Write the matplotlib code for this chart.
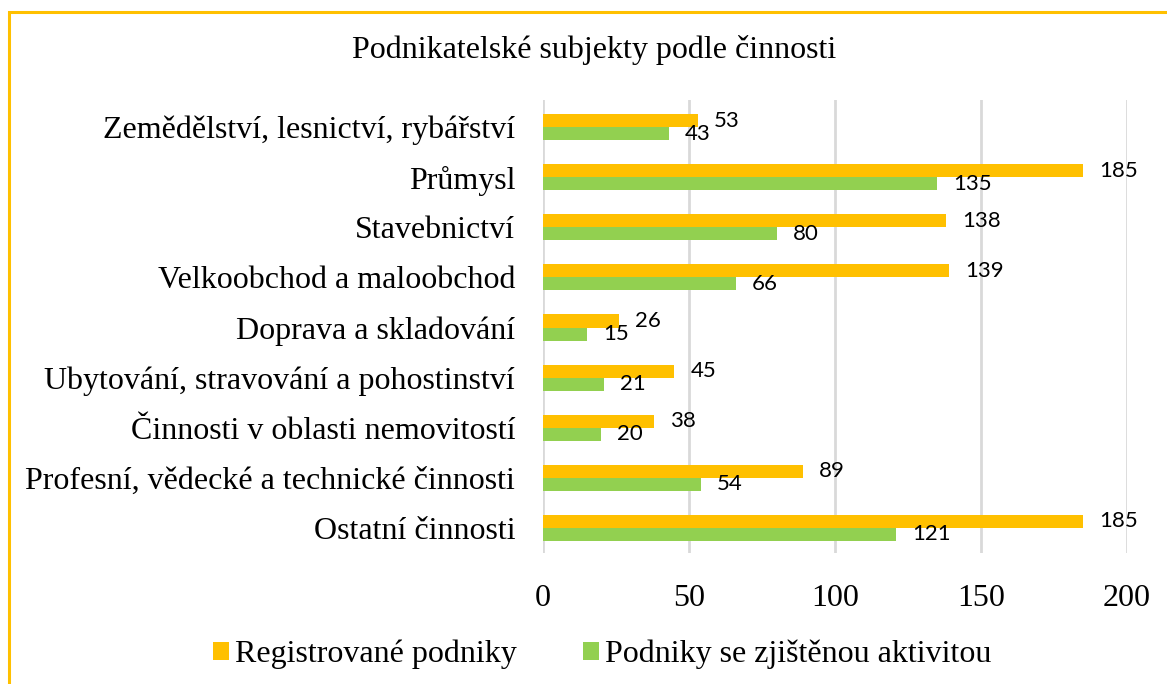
import matplotlib
matplotlib.use("Agg")
import matplotlib.pyplot as plt
from matplotlib.patches import Rectangle
import numpy as np

categories = [
    "Zemědělství, lesnictví, rybářství",
    "Průmysl",
    "Stavebnictví",
    "Velkoobchod a maloobchod",
    "Doprava a skladování",
    "Ubytování, stravování a pohostinství",
    "Činnosti v oblasti nemovitostí",
    "Profesní, vědecké a technické činnosti",
    "Ostatní činnosti",
]
registered = [53, 185, 138, 139, 26, 45, 38, 89, 185]
active = [43, 135, 80, 66, 15, 21, 20, 54, 121]
series_names = ["Registrované podniky", "Podniky se zjištěnou aktivitou"]
xticks = [0, 50, 100, 150, 200]
title = "Podnikatelské subjekty podle činnosti"

ORANGE = "#FFC000"
GREEN = "#92D050"
GRID = "#D9D9D9"
SERIF = "Liberation Serif"
SANS = "Lato"
FS = 23

fig = plt.figure(figsize=(11.67, 6.84), dpi=100)
ax = fig.add_axes([0.4653, 0.1915, 0.5004, 0.6623])

y = np.arange(len(categories))
h = 0.26
b1 = ax.barh(y - h / 2, registered, height=h, color=ORANGE, label=series_names[0], zorder=3)
b2 = ax.barh(y + h / 2, active, height=h, color=GREEN, label=series_names[1], zorder=3)

for bars, vals in ((b1, registered), (b2, active)):
    for rect, v in zip(bars, vals):
        ax.annotate(str(v), (rect.get_width(), rect.get_y() + rect.get_height() / 2),
                    xytext=(16, 0), textcoords="offset pixels",
                    ha="left", va="center", fontsize=16, family=SANS, color="black")

ax.set_xlim(0, 200)
ax.set_ylim(len(categories) - 0.5, -0.54)
ax.set_xticks(xticks)
ax.set_xticklabels([str(t) for t in xticks], family=SERIF, fontsize=FS)
ax.set_yticks(y)
ax.set_yticklabels(categories, family=SERIF, fontsize=FS)
ax.tick_params(axis="both", length=0)
ax.tick_params(axis="x", pad=22)
ax.tick_params(axis="y", pad=20)
for s in ax.spines.values():
    s.set_visible(False)
ax.xaxis.grid(True, color=GRID, linewidth=2, zorder=0)
ax.set_axisbelow(True)

fig.text(0.509, 0.927, title, ha="center", va="center", family=SERIF, fontsize=FS)

fig.legend(handles=[b1, b2], labels=series_names, loc="center", bbox_to_anchor=(0.516, 0.043),
           ncol=2, frameon=False, prop={"family": SERIF, "size": FS},
           handlelength=0.5, handleheight=0.5, handletextpad=0.2, columnspacing=2.05)

fig.patches.append(Rectangle((9 / 1167, -0.1), 1.2, 1 - 12 / 684 + 0.1, transform=fig.transFigure,
                             fill=False, edgecolor=ORANGE, linewidth=2.2, figure=fig))

fig.savefig("out.png", dpi=100)
